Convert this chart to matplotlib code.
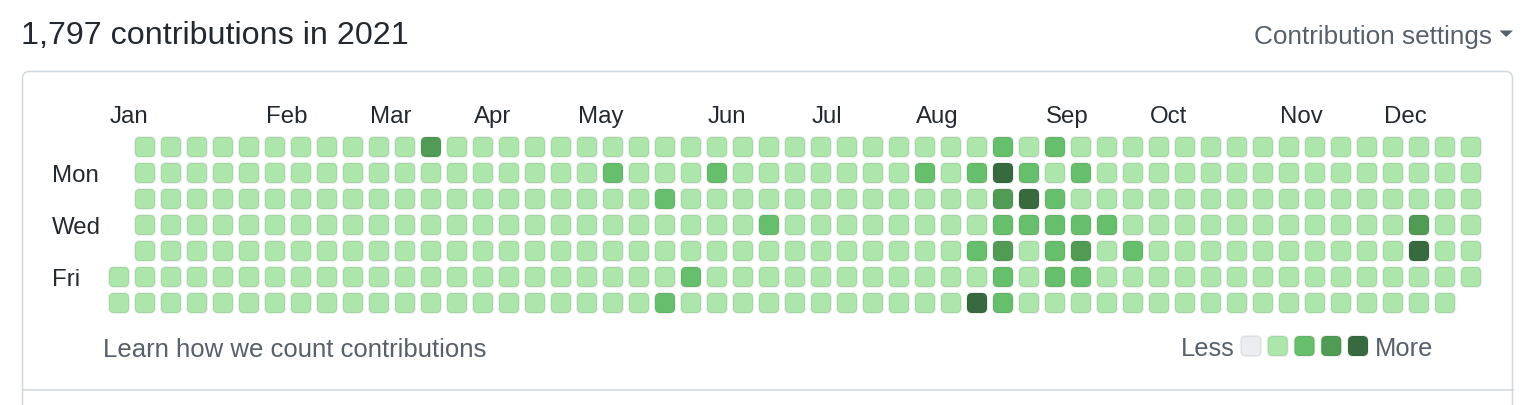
import numpy as np
import matplotlib.pyplot as plt
from matplotlib.patches import FancyBboxPatch, Polygon

plt.rcParams['font.family'] = ['Liberation Sans', 'DejaVu Sans']

title = "1,797 contributions in 2021"
month_labels = ["Jan", "Feb", "Mar", "Apr", "May", "Jun",
                "Jul", "Aug", "Sep", "Oct", "Nov", "Dec"]
month_weeks = [0, 6, 10, 14, 18, 23, 27, 31, 36, 40, 45, 49]
day_labels = ["Mon", "Wed", "Fri"]
day_rows = [1, 3, 5]

# contribution level per day: one string per weekday (Sun..Sat), one char per week
# ' ' = day outside 2021, '|' just groups ten weeks
levels_by_weekday = [
    " 111111111|1131111111|1111111111|1111212111|1111111111|111",
    " 111111111|1111111112|1112111111|1212421211|1111111111|111",
    " 111111111|1111111111|1211111111|1111342111|1111111111|111",
    " 111111111|1111111111|1111121111|1111222221|1111111111|311",
    " 111111111|1111111111|1111111111|1112312312|1111111111|411",
    "1111111111|1111111111|1121111111|1111212211|1111111111|111",
    "1111111111|1111111111|1211111111|1114211111|1111111111|11 ",
]
level_colors = ["#ebedf0", "#ace6ab", "#66bf6a", "#519c55", "#376b3f"]

grid = [row.replace("|", "") for row in levels_by_weekday]

text_dark = "#24292f"
text_gray = "#57606a"
border = "#d0d7de"
cell_edge = (27 / 255, 31 / 255, 35 / 255, 0.07)

fig = plt.figure(figsize=(15.36, 4.06), dpi=100)
ax = fig.add_axes([0, 0, 1, 1])
ax.set_xlim(0, 1536)
ax.set_ylim(406, 0)
ax.axis('off')

# header
ax.text(21, 44, title, fontsize=23.2, color=text_dark, va='baseline', ha='left')
ax.text(1492, 44, "Contribution settings", fontsize=18.8, color=text_gray,
        va='baseline', ha='right')
ax.add_patch(Polygon([[1499.5, 31.5], [1513, 31.5], [1506.2, 38]],
                     closed=True, color=text_gray, lw=0))

# card
ax.add_patch(FancyBboxPatch((22.5, 72.5), 1490, 420,
                            boxstyle="round,pad=0,rounding_size=7",
                            facecolor='none', edgecolor=border, lw=1.1))
ax.plot([22.5, 1512.5], [390.5, 390.5], color=border, lw=1.1)

# calendar grid
x0, y0, step, size = 109, 138, 26, 20
for r, row in enumerate(grid):
    for c, ch in enumerate(row):
        if ch == ' ':
            continue
        ax.add_patch(FancyBboxPatch((x0 + c * step, y0 + r * step), size, size,
                                    boxstyle="round,pad=0,rounding_size=5",
                                    facecolor=level_colors[int(ch)],
                                    edgecolor=cell_edge, lw=1.5))

for lab, w in zip(month_labels, month_weeks):
    ax.text(x0 + w * step + 1, 123, lab, fontsize=17.3, color=text_dark,
            va='baseline', ha='left')

for lab, r in zip(day_labels, day_rows):
    ax.text(52, y0 + r * step + size / 2 + 8.5, lab, fontsize=17.3,
            color=text_dark, va='baseline', ha='left')

# footer
ax.text(103, 357, "Learn how we count contributions", fontsize=18.5,
        color=text_gray, va='baseline', ha='left')
ax.text(1235, 356, "Less", fontsize=18.4, color=text_gray,
        va='baseline', ha='right')
for i, col in enumerate(level_colors):
    ax.add_patch(FancyBboxPatch((1241 + i * 26.75, 337), size, size,
                                boxstyle="round,pad=0,rounding_size=5",
                                facecolor=col, edgecolor=cell_edge, lw=1.5))
ax.text(1375, 356, "More", fontsize=18.4, color=text_gray,
        va='baseline', ha='left')

fig.savefig("out.png", dpi=100)
